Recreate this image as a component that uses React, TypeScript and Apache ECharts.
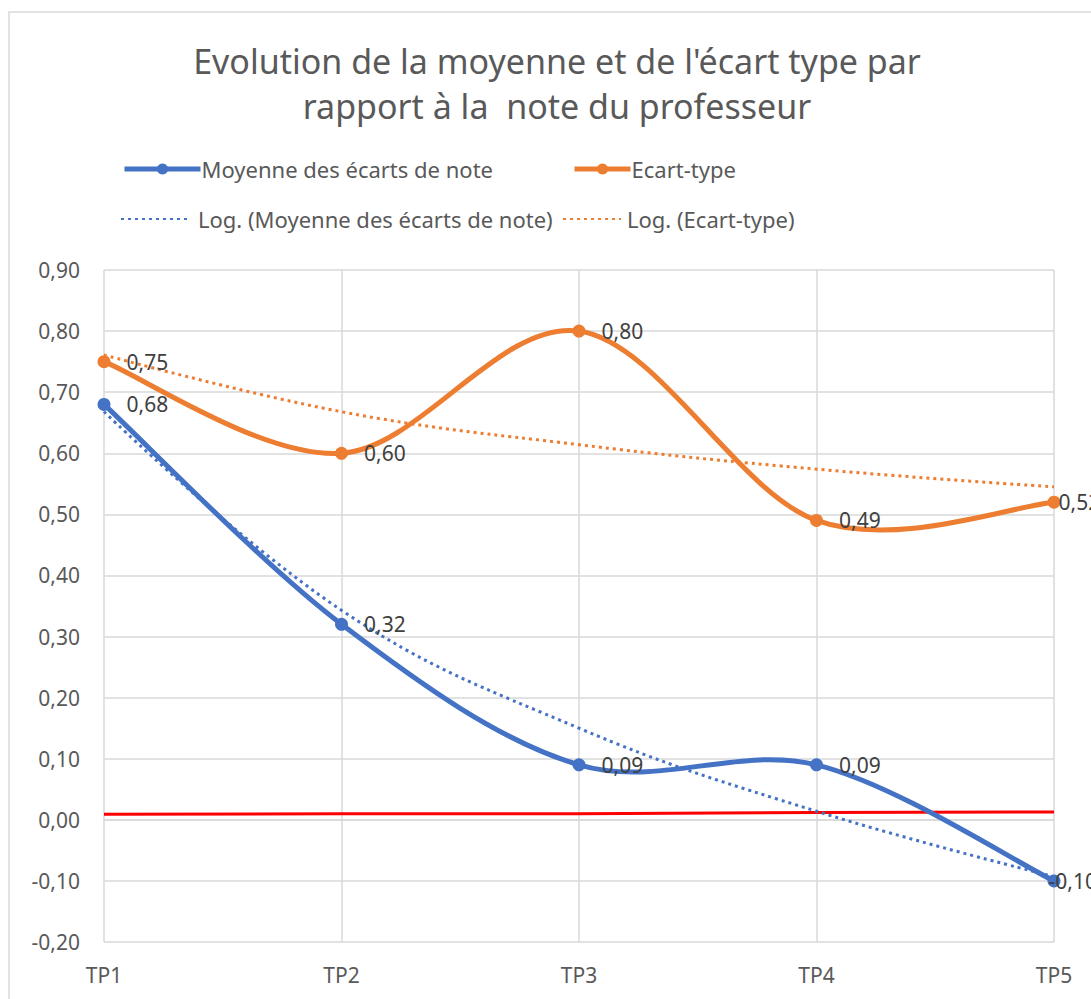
import React, { useEffect, useRef } from "react";
import * as echarts from "echarts";

const categories = ["TP1", "TP2", "TP3", "TP4", "TP5"];
const moyenne = [0.68, 0.32, 0.09, 0.09, -0.1];
const ecartType = [0.75, 0.6, 0.8, 0.49, 0.52];
const logMoyenne = [0.668, 0.343, 0.15, 0.014, -0.093];
const logEcart = [0.761, 0.668, 0.614, 0.574, 0.545];
const zeroLine = [0.009, 0.01, 0.01, 0.012, 0.013];
const yTicks = { min: -0.2, max: 0.9, step: 0.1 };

const titleLines = ["Evolution de la moyenne et de l'écart type par", "rapport à la  note du professeur"];
const NAME_MOY = "Moyenne des écarts de note";
const NAME_ECT = "Ecart-type";
const NAME_LOG_MOY = "Log. (Moyenne des écarts de note)";
const NAME_LOG_ECT = "Log. (Ecart-type)";

const FONT = "'Noto Sans', 'Open Sans', sans-serif";
const BLUE = "#4472C4";
const ORANGE = "#ED7D31";
const TXT = "#595959";
const GRID = "#d9d9d9";

const fmt = (v: number) => v.toFixed(2).replace(".", ",");

// Excel-like smoothed curve: each segment i -> i+1 drawn as a cubic bezier,
// with points mapped through the chart's own scales (api.coord).
function smoothCurve(name: string, values: number[], color: string) {
  return {
    name,
    type: "custom",
    coordinateSystem: "cartesian2d",
    data: values.map((v, i) => [i, v]),
    encode: { x: 0, y: 1 },
    silent: true,
    z: 3,
    renderItem: (params: any, api: any) => {
      const i = params.dataIndex;
      const n = values.length;
      if (i >= n - 1) return { type: "group", children: [] };
      const p = (j: number) => {
        const k = Math.max(0, Math.min(n - 1, j));
        return api.coord([k, values[k]]);
      };
      const p0 = p(i - 1);
      const p1 = p(i);
      const p2 = p(i + 1);
      const p3 = p(i + 2);
      return {
        type: "bezierCurve",
        shape: {
          x1: p1[0],
          y1: p1[1],
          cpx1: p1[0] + (p2[0] - p0[0]) / 6,
          cpy1: p1[1] + (p2[1] - p0[1]) / 6,
          cpx2: p2[0] - (p3[0] - p1[0]) / 6,
          cpy2: p2[1] - (p3[1] - p1[1]) / 6,
          x2: p2[0],
          y2: p2[1],
        },
        style: { stroke: color, lineWidth: 5, fill: "none", lineCap: "round" },
      };
    },
  };
}

// last point's label sits closer to the marker (as in the source chart)
const withLastLabel = (values: number[], distance: number) =>
  values.map((v, i) => (i === values.length - 1 ? { value: v, label: { distance } } : v));

export default function App() {
  const ref = useRef<HTMLDivElement>(null);
  useEffect(() => {
    const chart = echarts.init(ref.current!, null, { renderer: "svg" });
    const label = {
      show: true,
      position: "right",
      distance: 16,
      color: "#404040",
      fontSize: 21,
      fontFamily: FONT,
      formatter: (p: any) => fmt(p.value),
    };
    const mkLegend = (item: any, left: number, top: number, w: number, pad: number) => ({
      data: [item],
      left,
      top,
      itemWidth: w,
      itemHeight: 14,
      itemGap: 0,
      padding: 0,
      textStyle: { color: TXT, fontSize: 22, fontFamily: FONT, padding: [0, 0, 0, pad] },
      selectedMode: false,
    });
    chart.setOption({
      animation: false,
      backgroundColor: "#fff",
      textStyle: { fontFamily: FONT },
      graphic: [
        {
          type: "rect",
          shape: { x: 9, y: 12, width: 1200, height: 1100 },
          style: { fill: "none", stroke: GRID, lineWidth: 1.5 },
          silent: true,
          z: -10,
        },
        {
          type: "text",
          x: 557,
          y: 61,
          style: { text: titleLines[0], align: "center", verticalAlign: "middle", fill: TXT, font: `34px ${FONT}` },
        },
        {
          type: "text",
          x: 557,
          y: 106,
          style: { text: titleLines[1], align: "center", verticalAlign: "middle", fill: TXT, font: `34px ${FONT}` },
        },
      ],
      legend: [
        mkLegend({ name: NAME_MOY, lineStyle: { opacity: 1, width: 5, color: BLUE } }, 122, 158, 76, -4),
        mkLegend({ name: NAME_ECT, lineStyle: { opacity: 1, width: 5, color: ORANGE } }, 572, 158, 56, -4),
        mkLegend({ name: NAME_LOG_MOY, itemStyle: { opacity: 0 } }, 120, 208, 70, 2),
        mkLegend({ name: NAME_LOG_ECT, itemStyle: { opacity: 0 } }, 562, 208, 58, 1),
      ],
      grid: { left: 104, right: 37, top: 270, bottom: 57 },
      xAxis: {
        type: "category",
        data: categories,
        boundaryGap: false,
        axisLine: { lineStyle: { color: GRID, width: 1.5 } },
        axisTick: { show: false },
        axisLabel: { color: TXT, fontSize: 21, fontFamily: FONT, margin: 22 },
        splitLine: { show: true, lineStyle: { color: GRID, width: 1.5 } },
      },
      yAxis: {
        type: "value",
        min: yTicks.min,
        max: yTicks.max,
        interval: yTicks.step,
        axisLine: { show: false },
        axisTick: { show: false },
        axisLabel: { color: TXT, fontSize: 21, fontFamily: FONT, margin: 24, formatter: fmt },
        splitLine: { lineStyle: { color: GRID, width: 1.5 } },
      },
      series: [
        {
          name: "zero",
          type: "line",
          data: zeroLine,
          symbol: "none",
          lineStyle: { color: "#FF0000", width: 3 },
          itemStyle: { color: "#FF0000" },
          z: 1,
          silent: true,
        },
        {
          name: NAME_LOG_MOY,
          type: "line",
          data: logMoyenne,
          smooth: 0.4,
          symbol: "none",
          lineStyle: { color: BLUE, width: 3, type: [3, 4] },
          itemStyle: { color: BLUE },
          z: 2,
        },
        {
          name: NAME_LOG_ECT,
          type: "line",
          data: logEcart,
          smooth: 0.4,
          symbol: "none",
          lineStyle: { color: ORANGE, width: 3, type: [3, 4] },
          itemStyle: { color: ORANGE },
          z: 2,
        },
        smoothCurve("curve-moyenne", moyenne, BLUE),
        smoothCurve("curve-ecart", ecartType, ORANGE),
        {
          name: NAME_MOY,
          type: "line",
          data: withLastLabel(moyenne, -12),
          symbol: "circle",
          symbolSize: 13,
          lineStyle: { color: BLUE, width: 5, opacity: 0 },
          itemStyle: { color: BLUE },
          label,
          z: 4,
        },
        {
          name: NAME_ECT,
          type: "line",
          data: withLastLabel(ecartType, -2),
          symbol: "circle",
          symbolSize: 13,
          lineStyle: { color: ORANGE, width: 5, opacity: 0 },
          itemStyle: { color: ORANGE },
          label,
          z: 4,
        },
      ],
    });
    return () => chart.dispose();
  }, []);
  return <div ref={ref} style={{ position: "fixed", left: 0, top: 0, width: 1091, height: 999 }} />;
}
